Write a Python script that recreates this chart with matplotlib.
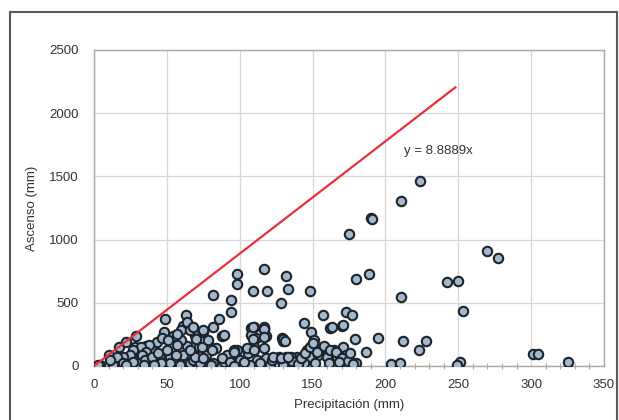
import matplotlib.pyplot as plt
import matplotlib.patches as mpatches
import numpy as np

plt.rcParams['font.family'] = ['Liberation Sans', 'DejaVu Sans']

# Datos: precipitacion (mm) vs ascenso (mm)
precip_alto = [224, 211, 190, 191, 175, 270, 277, 189, 180, 242, 250, 211, 253,
               301, 305, 325, 251, 249, 204, 210, 212, 223, 228, 195, 187, 179,
               173, 177, 170, 162, 157, 148, 144, 132, 133, 128, 129, 130, 117,
               109, 119, 98, 98, 94, 94, 82, 86, 88, 49, 63, 66, 29, 108, 111,
               117, 118, 107, 98, 75]
ascenso_alto = [1465, 1305, 1170, 1160, 1045, 910, 855, 730, 690, 668, 675, 545, 435,
                95, 95, 35, 35, 5, 15, 25, 200, 125, 195, 220, 110, 215,
                425, 400, 315, 300, 405, 590, 340, 715, 610, 500, 220, 195, 765,
                595, 590, 730, 645, 525, 430, 560, 375, 240, 375, 400, 315, 240, 300, 225,
                290, 235, 125, 125, 275]

precip_bajo = [4, 10, 17, 22, 28, 36, 43, 40, 33, 26, 19, 13, 20, 31, 38, 45, 52, 52,
               45, 59, 64, 66, 60, 69, 48, 54, 61, 64,
               38, 32, 36, 27, 33, 25, 20, 16, 11, 20, 27, 35, 40, 44, 50, 57, 70, 75,
               82, 89, 78, 72, 77, 84, 91, 96, 97, 89, 82, 75, 68, 61, 56, 59, 52, 46,
               41, 34, 22, 3, 106, 110, 117, 110, 117, 108, 118, 60, 66, 57, 47, 51,
               75, 109, 117, 109, 117, 130, 131, 105, 110, 68, 70, 74, 78, 81, 88, 96,
               93, 100, 112, 118, 126, 134, 130, 121, 107, 96, 80, 73, 69, 75, 66,
               163, 171, 149, 151, 157, 165, 171, 146, 148, 154, 160, 167, 173, 139,
               135, 137, 144, 152, 161, 169, 177, 180,
               103, 114, 122, 127, 132, 136, 140, 142, 145, 148, 150, 153, 158, 162,
               166, 170, 174, 178, 176, 168, 123, 128, 133]
ascenso_bajo = [5, 85, 150, 190, 150, 160, 190, 125, 100, 75, 45, 8, 8, 20, 47, 86, 73, 8,
                8, 73, 162, 21, 205, 243, 270, 236, 315, 347,
                165, 152, 113, 126, 86, 86, 73, 73, 47, 21, 34, 47, 73, 99, 126, 165, 217, 270,
                309, 244, 178, 152, 86, 139, 86, 126, 34, 34, 21, 34, 47, 86, 86, 8, 21, 21,
                8, 8, 8, 8, 99, 152, 139, 309, 309, 243, 34, 283, 283, 257, 218, 205,
                283, 309, 296, 217, 231, 217, 197, 139, 126, 309, 217, 152, 204, 126, 60, 113,
                34, 47, 47, 60, 60, 34, 8, 8, 8, 0, 8, 21, 73, 60, 126,
                309, 322, 270, 204, 152, 126, 152, 126, 73, 86, 73, 73, 86, 73,
                73, 21, 21, 21, 21, 21, 26, 21,
                30, 25, 45, 70, 75, 40, 15, 60, 100, 150, 180, 110, 160, 130,
                110, 60, 40, 15, 100, 30, 75, 60, 70]

pendiente = 8.8889
x_recta = [0, 248]

fig = plt.figure(figsize=(6.19, 4.2), dpi=100)
ax = fig.add_axes([94 / 619, 1 - 366 / 420, 510 / 619, 316 / 420])

# marco exterior del grafico
marco = mpatches.Rectangle((10 / 619, -0.1), 607 / 619, 1.1 - 12 / 420,
                           transform=fig.transFigure, fill=False,
                           edgecolor='#5a5a5a', linewidth=1.5)
fig.patches.append(marco)

x = precip_alto + precip_bajo
y = ascenso_alto + ascenso_bajo
ax.scatter(x, y, s=46, facecolor='#a3b8cb', edgecolor='#1b242d',
           linewidth=1.5, zorder=3)

ax.plot(x_recta, [pendiente * v for v in x_recta], color='#e8303a',
        linewidth=1.6, zorder=4)
ax.text(213, 1700, 'y = 8.8889x', fontsize=9.5, color='#333333',
        va='center', ha='left')

ax.set_xlim(0, 350)
ax.set_ylim(0, 2500)
ax.set_xticks(np.arange(0, 351, 50))
ax.set_yticks(np.arange(0, 2501, 500))
ax.set_xticks(np.arange(0, 351, 10), minor=True)
ax.grid(True, color='#d6d6d6', linewidth=0.9)
ax.set_axisbelow(True)

for s in ax.spines.values():
    s.set_color('#a8a8a8')
    s.set_linewidth(1.0)

ax.tick_params(axis='both', which='major', length=0, labelsize=9.5,
               labelcolor='#333333')
ax.tick_params(axis='x', which='major', pad=9)
ax.tick_params(axis='y', which='major', pad=11)
ax.tick_params(axis='x', which='minor', length=4, direction='inout',
               color='#a8a8a8', width=0.8)
ax.tick_params(axis='y', which='minor', length=0)

ax.set_xlabel('Precipitación (mm)', fontsize=9.5, color='#333333', labelpad=6)
ax.set_ylabel('Ascenso (mm)', fontsize=9.5, color='#333333', labelpad=8)

fig.savefig('out.png', dpi=100)
